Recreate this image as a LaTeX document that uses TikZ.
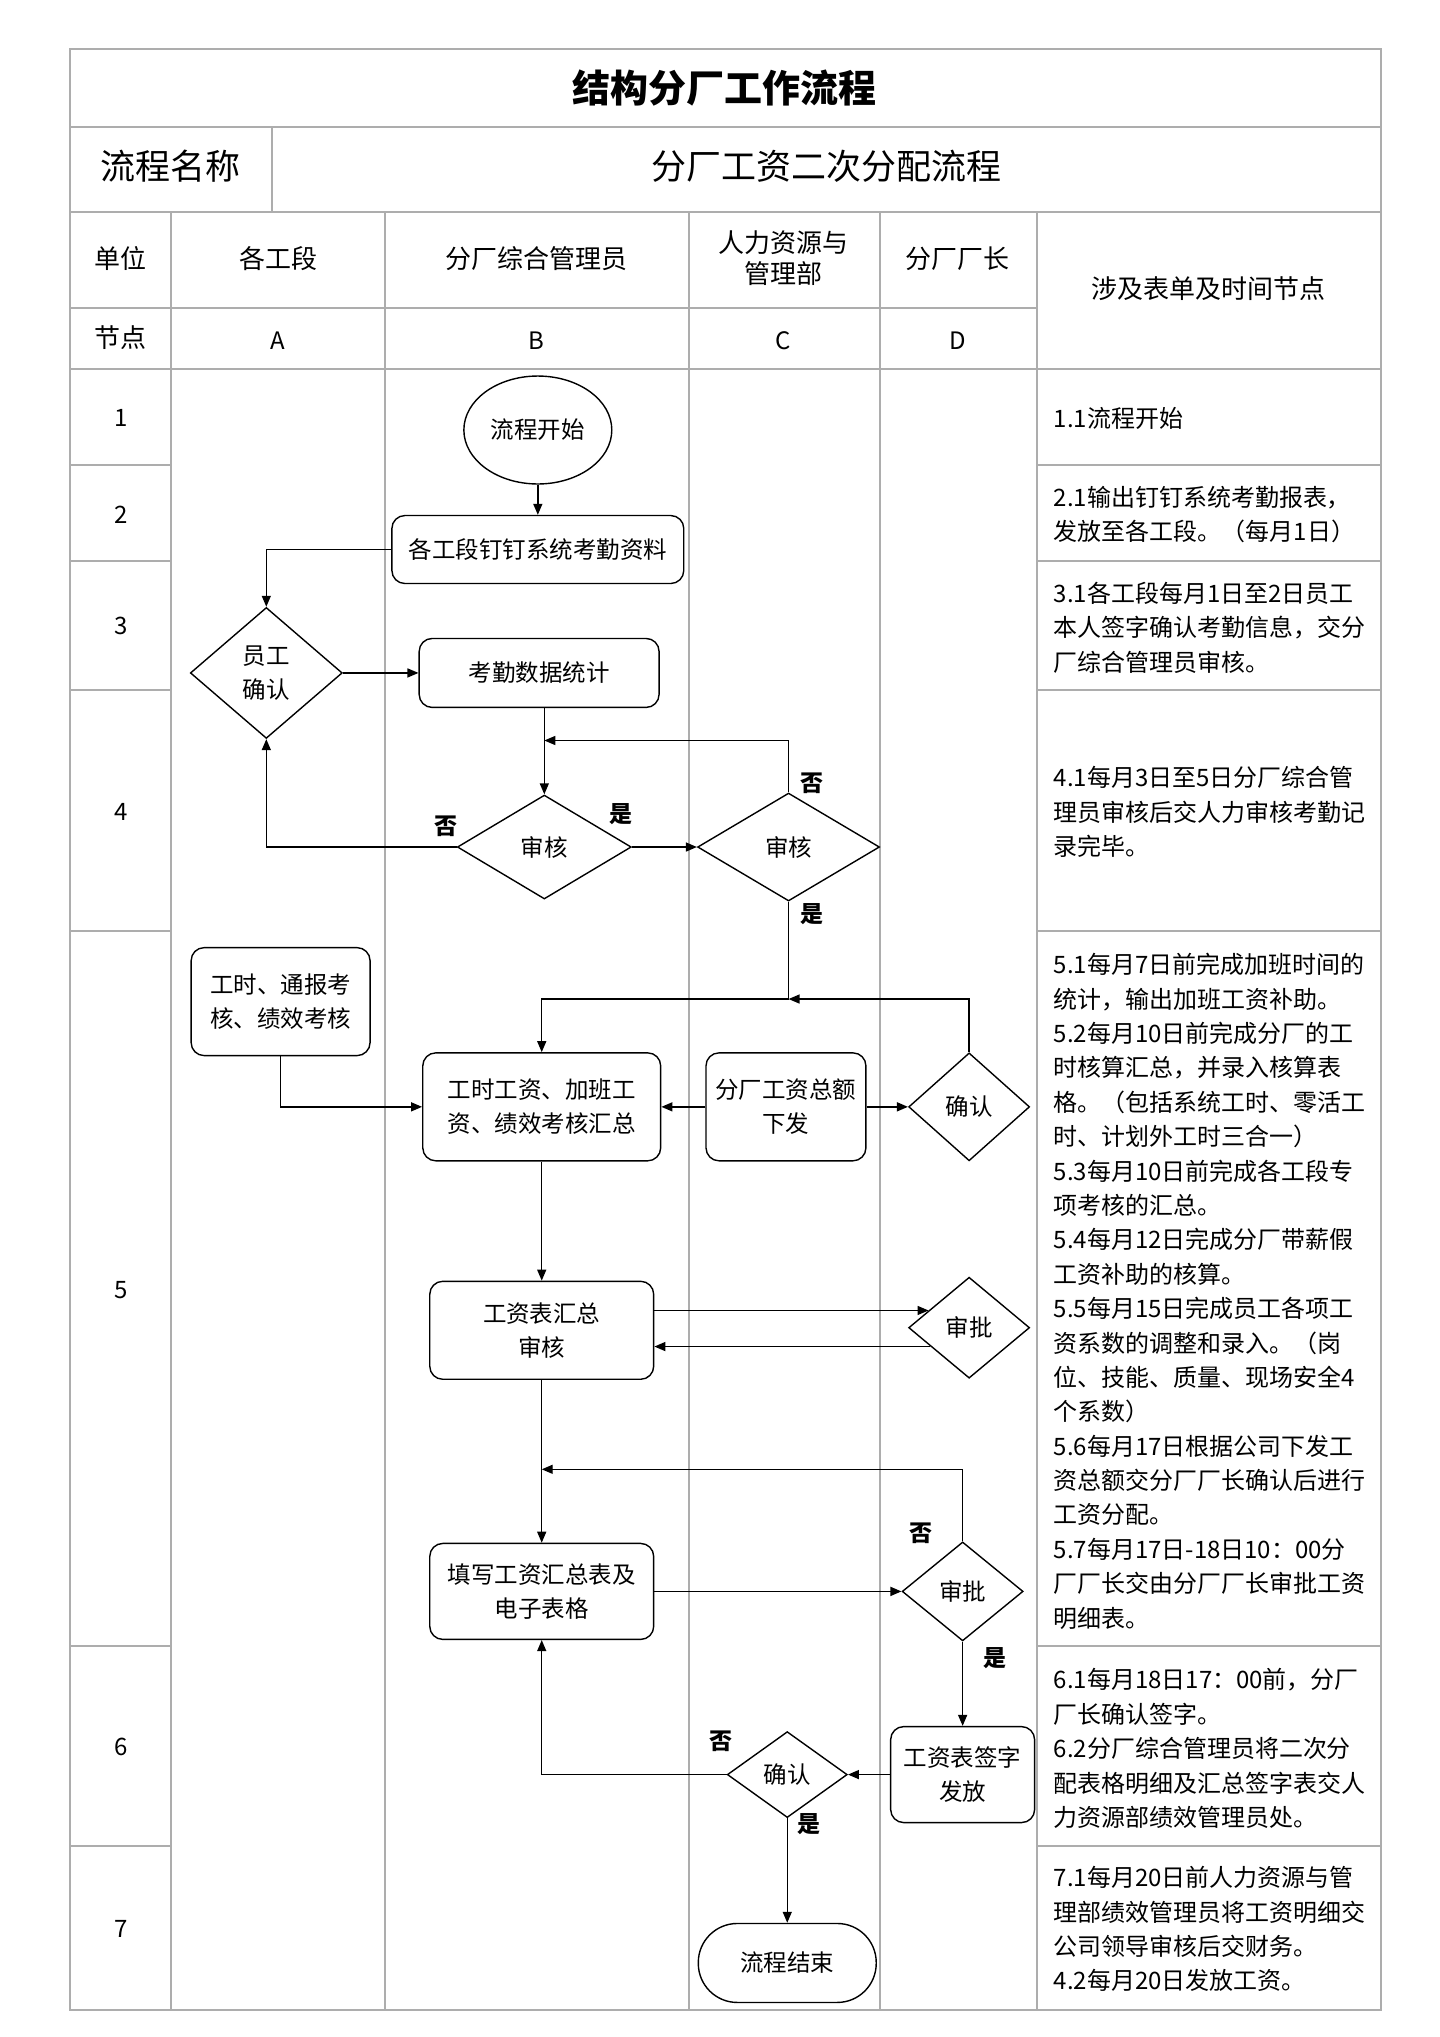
\documentclass[tikz,border=0pt]{standalone}
\usepackage{fontspec}
\setmainfont{Noto Sans CJK SC}
\usetikzlibrary{shapes.geometric,arrows.meta}

\begin{document}
\begin{tikzpicture}[x=1.2996pt,y=-1.2996pt,>={Triangle[length=11pt,width=9pt]},
        grid/.style={draw=black!32, line width=2pt},
        flow/.style={line width=1.4pt},
        box/.style={draw, line width=1.4pt, rectangle, rounded corners=13pt, align=center, inner sep=0pt, font=\fontsize{23.5}{34}\selectfont},
        dia/.style={draw, line width=1.4pt, diamond, align=center, inner sep=0pt, font=\fontsize{23.5}{34}\selectfont},
        yesno/.style={inner sep=0pt, font=\fontsize{23}{23}\selectfont\bfseries},
        head/.style={align=center, inner sep=0pt, font=\fontsize{26}{31}\selectfont},
        rownum/.style={inner sep=0pt, font=\fontsize{24}{24}\selectfont},
        note/.style={anchor=west, align=left, inner sep=0pt, font=\fontsize{24}{34.4}\selectfont}]
        \useasboundingbox (0,0) rectangle (1108.4,1568);

        % table
        \draw[grid] (54,38) rectangle (1063,1547);
        \draw[grid] (54,98) -- (1063,98);
        \draw[grid] (54,163) -- (1063,163);
        \draw[grid] (54,237) -- (798,237);
        \draw[grid] (54,284) -- (1063,284);
        \draw[grid] (209,98) -- (209,163);
        \foreach \x in {132,296,530,677,798} \draw[grid] (\x,163) -- (\x,1547);
        \foreach \y in {358,432,531,717,1267,1421} {
            \draw[grid] (54,\y) -- (132,\y);
            \draw[grid] (798,\y) -- (1063,\y);
        }

        \node (title) [inner sep=0pt, font=\fontsize{38}{38}\selectfont\bfseries] at (558,68) {结构分厂工作流程};
        \node (pname) [inner sep=0pt, font=\fontsize{35}{35}\selectfont] at (131,128) {流程名称};
        \node (pvalue) [inner sep=0pt, font=\fontsize{35}{35}\selectfont] at (636,128) {分厂工资二次分配流程};

        \node (hunit) [head] at (93,199) {单位};
        \node (hA) [head] at (214,199) {各工段};
        \node (hB) [head] at (413,199) {分厂综合管理员};
        \node (hC) [head] at (603,199) {人力资源与\\管理部};
        \node (hD) [head] at (737,199) {分厂厂长};
        \node (hnote) [head] at (930,222) {涉及表单及时间节点};
        \node (hnode) [head] at (93,260) {节点};
        \node (lA) [rownum] at (214,262) {A};
        \node (lB) [rownum] at (413,262) {B};
        \node (lC) [rownum] at (603,262) {C};
        \node (lD) [rownum] at (737,262) {D};

        \node (row1) [rownum] at (93,322) {1};
        \node (row2) [rownum] at (93,396) {2};
        \node (row3) [rownum] at (93,482) {3};
        \node (row4) [rownum] at (93,625) {4};
        \node (row5) [rownum] at (93,993) {5};
        \node (row6) [rownum] at (93,1345) {6};
        \node (row7) [rownum] at (93,1485) {7};

        % time notes
        \node (note1) [note] at (811,322) {1.1流程开始};
        \node (note2) [note] at (811,396) {2.1输出钉钉系统考勤报表，\\发放至各工段。（每月1日）};
        \node (note3) [note] at (811,483) {3.1各工段每月1日至2日员工\\本人签字确认考勤信息，交分\\厂综合管理员审核。};
        \node (note4) [note] at (811,625) {4.1每月3日至5日分厂综合管\\理员审核后交人力审核考勤记\\录完毕。};
        \node (note5) [note] at (811,994) {5.1每月7日前完成加班时间的\\统计，输出加班工资补助。\\5.2每月10日前完成分厂的工\\时核算汇总，并录入核算表\\格。（包括系统工时、零活工\\时、计划外工时三合一）\\5.3每月10日前完成各工段专\\项考核的汇总。\\5.4每月12日完成分厂带薪假\\工资补助的核算。\\5.5每月15日完成员工各项工\\资系数的调整和录入。（岗\\位、技能、质量、现场安全4\\个系数）\\5.6每月17日根据公司下发工\\资总额交分厂厂长确认后进行\\工资分配。\\5.7每月17日-18日10：00分\\厂厂长交由分厂厂长审批工资\\明细表。};
        \node (note6) [note] at (811,1346) {6.1每月18日17：00前，分厂\\厂长确认签字。\\6.2分厂综合管理员将二次分\\配表格明细及汇总签字表交人\\力资源部绩效管理员处。};
        \node (note7) [note] at (811,1485) {7.1每月20日前人力资源与管\\理部绩效管理员将工资明细交\\公司领导审核后交财务。\\4.2每月20日发放工资。};

        % flow nodes
        \node (start) [draw, line width=1.4pt, ellipse, minimum width=148pt, minimum height=108pt, inner sep=0pt, font=\fontsize{23.5}{34}\selectfont] at (414,331) {流程开始};
        \node (data) [box, minimum width=292pt, minimum height=68pt] at (414,423) {各工段钉钉系统考勤资料};
        \node (staffok) [dia, minimum width=152pt, minimum height=131pt] at (205,518) {员工\\确认};
        \node (stat) [box, minimum width=240pt, minimum height=69pt] at (415,518) {考勤数据统计};
        \node (checkB) [dia, minimum width=174pt, minimum height=104pt] at (419,652) {审核};
        \node (checkC) [dia, minimum width=182pt, minimum height=108pt] at (607,652) {审核};
        \node (perf) [box, minimum width=179pt, minimum height=108pt] at (216,771) {工时、通报考\\核、绩效考核};
        \node (sum) [box, minimum width=238pt, minimum height=108pt] at (417,852) {工时工资、加班工\\资、绩效考核汇总};
        \node (total) [box, minimum width=160pt, minimum height=108pt] at (605,852) {分厂工资总额\\下发};
        \node (confD) [dia, minimum width=121pt, minimum height=108pt] at (746,852) {确认};
        \node (sheet) [box, minimum width=224pt, minimum height=98pt] at (417,1024) {工资表汇总\\审核};
        \node (apprD) [dia, minimum width=121pt, minimum height=101pt] at (746,1022) {审批};
        \node (fill) [box, minimum width=224pt, minimum height=96pt] at (417,1225) {填写工资汇总表及\\电子表格};
        \node (apprE) [dia, minimum width=121pt, minimum height=99pt] at (741,1225) {审批};
        \node (sign) [box, minimum width=144pt, minimum height=96pt] at (741,1366) {工资表签字\\发放};
        \node (confC) [dia, minimum width=120pt, minimum height=86pt] at (606,1366) {确认};
        \node (end) [box, rounded corners=39pt, minimum width=178pt, minimum height=79pt] at (606,1511) {流程结束};

        \coordinate (j1) at (419,570);
        \coordinate (j2) at (607,769);
        \coordinate (j3) at (417,1131);

        % connectors
        \draw[->, flow] (start) -- (data);
        \draw[->, flow] (data.west) -| (staffok.north);
        \draw[->, flow] (staffok.east) -- (stat.west);
        \draw[->, flow] (checkB.north |- stat.south) -- (checkB.north);
        \draw[->, flow] (checkC.north) |- (j1);
        \draw[->, flow] (checkB.west) -| (staffok.south);
        \draw[->, flow] (checkB.east) -- (checkC.west);
        \draw[flow] (checkC.south) -- (j2);
        \draw[->, flow] (j2) -| (sum.north);
        \draw[->, flow] (confD.north) |- (j2);
        \draw[->, flow] (perf.south) |- (sum.west);
        \draw[->, flow] (total.west) -- (sum.east);
        \draw[->, flow] (total.east) -- (confD.west);
        \draw[->, flow] (sum.south) -- (sheet.north);
        \draw[->, flow] (sheet.east |- apprD.157) -- (apprD.157);
        \draw[->, flow] (apprD.206) -- (sheet.east |- apprD.206);
        \draw[->, flow] (sheet.south) -- (fill.north);
        \draw[->, flow] (apprE.north) |- (j3);
        \draw[->, flow] (fill.east) -- (apprE.west);
        \draw[->, flow] (apprE.south) -- (sign.north);
        \draw[->, flow] (sign.west) -- (confC.east);
        \draw[->, flow] (confC.west) -| (fill.south);
        \draw[->, flow] (confC.south) -- (end.north);

        % yes / no
        \node (no1) [yesno] at (625,603) {否};
        \node (no2) [yesno] at (343,636) {否};
        \node (yes1) [yesno] at (478,627) {是};
        \node (yes2) [yesno] at (625,704) {是};
        \node (no3) [yesno] at (709,1180) {否};
        \node (yes3) [yesno] at (766,1276) {是};
        \node (no4) [yesno] at (555,1340) {否};
        \node (yes4) [yesno] at (623,1404) {是};
    \end{tikzpicture}
\end{document}
